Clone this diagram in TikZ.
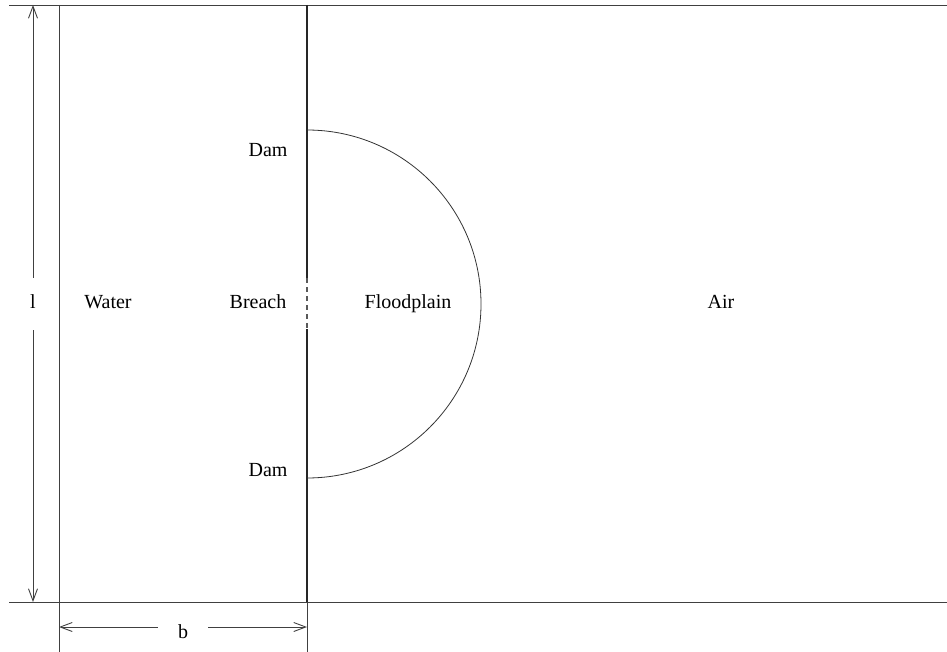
\documentclass[tikz,border=0pt]{standalone}
\usepackage{fontspec}
\setmainfont{Liberation Serif}
\usetikzlibrary{arrows.meta}
\begin{document}
\begin{tikzpicture}[x=1pt,y=-1pt,
  thinline/.style={line width=0.9pt,draw=black!75},
  damline/.style={line width=1.8pt,draw=black!85},
  dimarrow/.style={line width=0.9pt,draw=black!75,-{Straight Barb[length=12pt,width=9pt]}},
  lbl/.style={font=\fontsize{20}{24}\selectfont,inner sep=0pt,text height=13pt,text depth=4pt}]
\useasboundingbox (0,0) rectangle (947,652);
% coordinates
\coordinate (tl) at (9,5);
\coordinate (tr) at (947,5);
\coordinate (bl) at (9,602);
\coordinate (br) at (947,602);
\coordinate (wt) at (59,5);
\coordinate (wb) at (59,652);
\coordinate (dt) at (307,5);
\coordinate (d1) at (307,278);
\coordinate (d2) at (307,329);
\coordinate (db) at (307,602);
\coordinate (dbb) at (307,652);
\coordinate (ctop) at (307,130);
\coordinate (cbot) at (307,478);
\coordinate (at) at (33,5);
\coordinate (ab) at (33,602);
\coordinate (bL) at (59,627);
\coordinate (bR) at (307,627);
% lines
\draw[thinline] (tl) -- (tr);
\draw[thinline] (bl) -- (br);
\draw[thinline] (wt) -- (wb);
\draw[damline] (dt) -- (d1);
\draw[line width=1.1pt,draw=black!65,dash pattern=on 5pt off 4pt] (d1) -- (d2);
\draw[damline] (d2) -- (db);
\draw[thinline] (db) -- (dbb);
\draw[line width=0.8pt,draw=black!80] (ctop) arc[start angle=-90,end angle=90,radius=174];
% labels
\node[lbl] (dam1) at (268,152) {Dam};
\node[lbl] (dam2) at (268,472) {Dam};
\node[lbl] (water) at (108,304) {Water};
\node[lbl] (breach) at (258,304) {Breach};
\node[lbl] (flood) at (408,304) {Floodplain};
\node[lbl] (air) at (721,304) {Air};
\node[lbl,minimum height=52pt] (l) at (33,304) {l};
\node[lbl,minimum width=50pt] (b) at (183,634) {b};
% dimension arrows
\draw[dimarrow] (l.north) -- (at);
\draw[dimarrow] (l.south) -- (ab);
\draw[dimarrow] (b.west |- bL) -- (bL);
\draw[dimarrow] (b.east |- bR) -- (bR);
\end{tikzpicture}
\end{document}
